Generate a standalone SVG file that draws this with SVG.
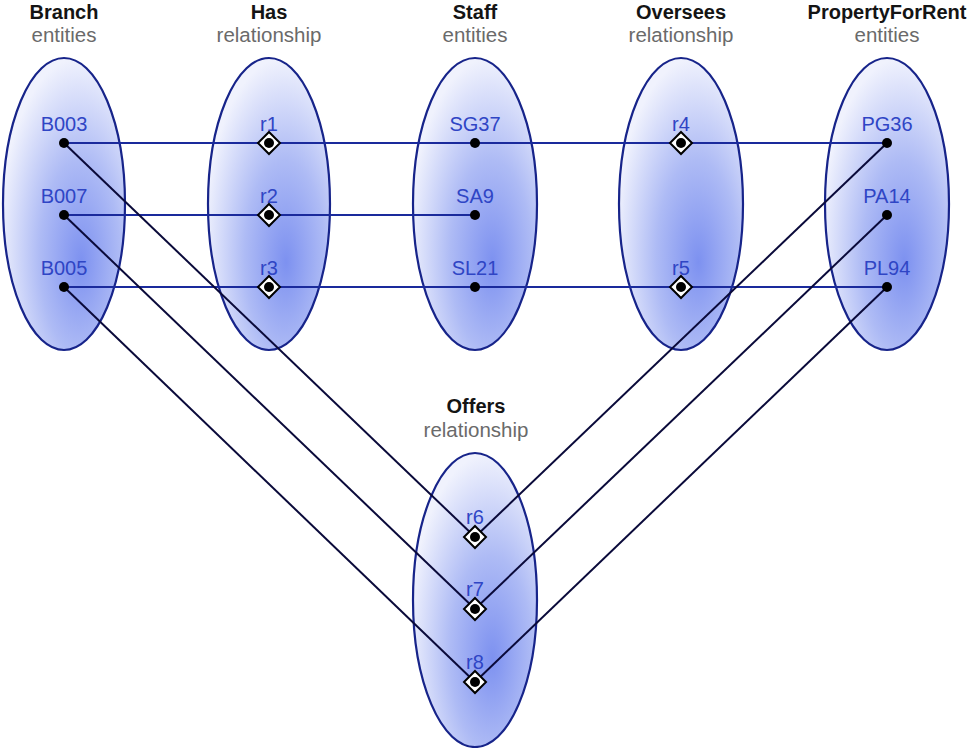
<svg xmlns="http://www.w3.org/2000/svg" width="975" height="748" viewBox="0 0 975 748">
<defs>
<radialGradient id="g" cx="0.62" cy="0.66" r="0.66" fx="0.64" fy="0.7">
<stop offset="0" stop-color="#7d91f0"/>
<stop offset="0.5" stop-color="#aebbf5"/>
<stop offset="1" stop-color="#f0f2fd"/>
</radialGradient>
<g id="dia"><polygon points="0,-11 11,0 0,11 -11,0" fill="#fff" stroke="#000" stroke-width="2"/><circle r="5" fill="#000"/></g>
</defs>
<style>
.set{fill:url(#g);stroke:#17248a;stroke-width:2.2}
.h{font-family:"Liberation Sans",Arial,sans-serif;font-size:20px;font-weight:bold;fill:#141414;text-anchor:middle}
.s{font-family:"Liberation Sans",Arial,sans-serif;font-size:20.5px;fill:#6a6a6a;text-anchor:middle}
.l{font-family:"Liberation Sans",Arial,sans-serif;font-size:20px;fill:#2f45c5;text-anchor:middle}
.hl{stroke:#1a2a9c;stroke-width:2.2;fill:none}
.dl{stroke:#0a0a3a;stroke-width:2;fill:none}
.dot{fill:#000}
</style>
<rect width="975" height="748" fill="#fff"/>
<g id="headers">
<text class="h" x="64" y="19">Branch</text><text class="s" x="64" y="42">entities</text>
<text class="h" x="269" y="19">Has</text><text class="s" x="269" y="42">relationship</text>
<text class="h" x="475" y="19">Staff</text><text class="s" x="475" y="42">entities</text>
<text class="h" x="681" y="19">Oversees</text><text class="s" x="681" y="42">relationship</text>
<text class="h" x="887" y="19">PropertyForRent</text><text class="s" x="887" y="42">entities</text>
<text class="h" x="476" y="413">Offers</text><text class="s" x="476" y="437">relationship</text>
</g>
<g id="sets">
<ellipse id="branch" class="set" cx="64" cy="204" rx="61" ry="146"/>
<ellipse id="has" class="set" cx="269" cy="204" rx="61" ry="146"/>
<ellipse id="staff" class="set" cx="475" cy="204" rx="62" ry="146"/>
<ellipse id="oversees" class="set" cx="681" cy="204" rx="62" ry="146"/>
<ellipse id="property" class="set" cx="887" cy="204" rx="62" ry="146"/>
<ellipse id="offers" class="set" cx="475" cy="600" rx="62" ry="147"/>
</g>
<g id="connectors">
<line class="hl" x1="64" y1="143" x2="887" y2="143"/>
<line class="hl" x1="64" y1="215" x2="475" y2="215"/>
<line class="hl" x1="64" y1="287" x2="887" y2="287"/>
<line class="dl" x1="64" y1="143" x2="475" y2="537"/>
<line class="dl" x1="64" y1="215" x2="475" y2="609"/>
<line class="dl" x1="64" y1="287" x2="475" y2="682"/>
<line class="dl" x1="887" y1="143" x2="475" y2="537"/>
<line class="dl" x1="887" y1="215" x2="475" y2="609"/>
<line class="dl" x1="887" y1="287" x2="475" y2="682"/>
</g>
<g id="B003"><text class="l" x="64" y="131">B003</text><circle class="dot" cx="64" cy="143" r="5"/></g>
<g id="B007"><text class="l" x="64" y="203">B007</text><circle class="dot" cx="64" cy="215" r="5"/></g>
<g id="B005"><text class="l" x="64" y="275">B005</text><circle class="dot" cx="64" cy="287" r="5"/></g>
<g id="r1"><text class="l" x="269" y="131">r1</text><use href="#dia" x="269" y="143"/></g>
<g id="r2"><text class="l" x="269" y="203">r2</text><use href="#dia" x="269" y="215"/></g>
<g id="r3"><text class="l" x="269" y="275">r3</text><use href="#dia" x="269" y="287"/></g>
<g id="SG37"><text class="l" x="475" y="131">SG37</text><circle class="dot" cx="475" cy="143" r="5"/></g>
<g id="SA9"><text class="l" x="475" y="203">SA9</text><circle class="dot" cx="475" cy="215" r="5"/></g>
<g id="SL21"><text class="l" x="475" y="275">SL21</text><circle class="dot" cx="475" cy="287" r="5"/></g>
<g id="r4"><text class="l" x="681" y="131">r4</text><use href="#dia" x="681" y="143"/></g>
<g id="r5"><text class="l" x="681" y="275">r5</text><use href="#dia" x="681" y="287"/></g>
<g id="PG36"><text class="l" x="887" y="131">PG36</text><circle class="dot" cx="887" cy="143" r="5"/></g>
<g id="PA14"><text class="l" x="887" y="203">PA14</text><circle class="dot" cx="887" cy="215" r="5"/></g>
<g id="PL94"><text class="l" x="887" y="275">PL94</text><circle class="dot" cx="887" cy="287" r="5"/></g>
<g id="r6"><text class="l" x="475" y="524">r6</text><use href="#dia" x="475" y="537"/></g>
<g id="r7"><text class="l" x="475" y="596">r7</text><use href="#dia" x="475" y="609"/></g>
<g id="r8"><text class="l" x="475" y="669">r8</text><use href="#dia" x="475" y="682"/></g>
</svg>
